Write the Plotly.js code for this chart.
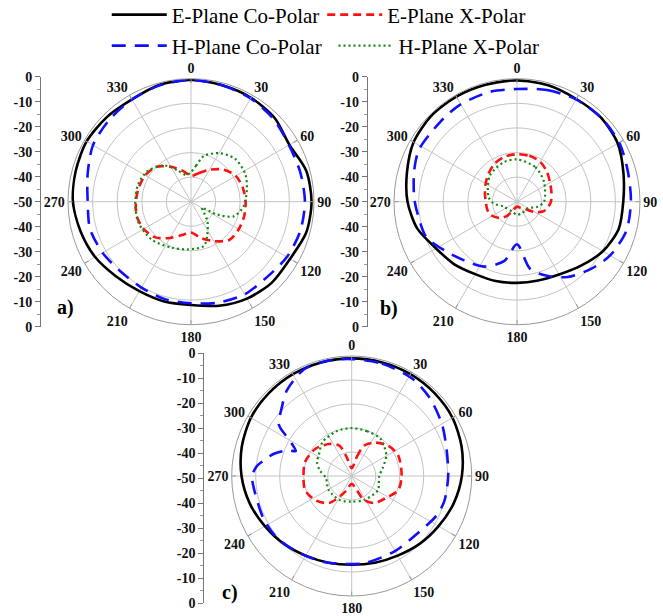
<!DOCTYPE html>
<html><head><meta charset="utf-8">
<script src="https://cdn.plot.ly/plotly-3.0.1.min.js"></script>
<style>html,body{margin:0;padding:0;background:#fff}#chart{width:663px;height:616px}</style>
</head><body><div id="chart"></div>
<script>
const seriesNames = ['E-Plane Co-Polar', 'E-Plane X-Polar', 'H-Plane Co-Polar', 'H-Plane X-Polar'];
const angleTicks = [0, 30, 60, 90, 120, 150, 180, 210, 240, 270, 300, 330];
const angleTickLabels = ['0', '30', '60', '90', '120', '150', '180', '210', '240', '270', '300', '330'];
const sideTickVals = [50, 40, 30, 20, 10, 0, -10, -20, -30, -40, -50];
const sideTickLabels = ['0', '-10', '-20', '-30', '-40', '-50', '-40', '-30', '-20', '-10', '0'];
const panelLabels = ['a)', 'b)', 'c)'];

// ---------- panel a ----------
const aEcoTheta = [0, 15, 30, 45, 60, 75, 90, 105, 120, 135, 150, 165, 180, 195, 210, 225, 240, 255, 270, 285, 300, 315, 330, 345];
const aEcoR = [-0.5, -1, -1.2, -1.9, -3.8, -1.5, -1, -1.5, -3.5, -3.5, -4.5, -6.2, -8, -8, -8, -7, -5, -3.5, -2, -1.5, -1, -1.5, -2, -0.8];
const aExTheta = [0, 15, 30, 45, 60, 75, 90, 105, 120, 135, 150, 165, 180, 195, 210, 225, 240, 255, 270, 285, 300, 315, 330, 345];
const aExR = [-39.5, -38, -35, -31.5, -29, -28.2, -27.8, -27.6, -27.6, -28, -31.5, -34.8, -37.5, -36, -33, -29.5, -27.8, -27.2, -27.6, -28, -28.5, -30, -33.6, -37];
const aHcoTheta = [0, 15, 30, 45, 60, 75, 90, 105, 120, 135, 150, 165, 180, 195, 210, 225, 240, 255, 270, 285, 300, 315, 330, 345];
const aHcoR = [-0.5, -1, -1.5, -2.5, -4, -4, -3.7, -4, -5, -6.5, -6.5, -7.5, -8.7, -9, -9.7, -9.7, -8.5, -7.5, -8, -6.5, -4, -3, -2, -1];
const aHxTheta = [0, 8, 16, 31, 46, 63, 78, 95, 109, 116, 120, 126, 140, 155, 164, 184, 203, 226, 248, 268, 289, 306, 324, 337, 350];
const aHxR = [-38, -35.2, -30.6, -27, -25, -25.2, -26.8, -28.5, -31.7, -38, -45, -44, -39.6, -34.5, -31.2, -30.6, -29.7, -27.8, -27, -27.3, -27.4, -28.5, -31.8, -36.2, -39];

// ---------- panel b ----------
const bEcoTheta = [0, 15, 30, 45, 60, 75, 90, 105, 120, 135, 150, 165, 180, 195, 210, 225, 240, 255, 270, 285, 300, 315, 330, 345];
const bEcoR = [-0.7, -1, -1.8, -1.7, -2.7, -5.2, -6.8, -7.2, -9.7, -13.2, -15.8, -16.8, -17, -16.6, -16, -14, -12, -8, -5.5, -3.7, -1.5, -0.7, -0.7, -0.8];
const bExTheta = [0, 15, 30, 45, 60, 75, 90, 100, 110, 120, 130, 150, 180, 205, 215, 225, 243, 255, 270, 285, 300, 315, 330, 345];
const bExR = [-30.7, -30.7, -31.2, -32.8, -34.5, -35.5, -36.2, -37.2, -38.6, -41.5, -45, -47, -48, -46, -43, -40.6, -38, -37.5, -37.3, -36.5, -35.3, -33.7, -32, -31];
const bHcoTheta = [0, 15, 30, 45, 60, 75, 90, 105, 120, 132, 146, 158, 169, 180, 192, 207, 222, 236, 249, 263, 272, 287, 298, 316, 329, 346];
const bHcoR = [-4.2, -3, -2, -1.7, -2, -3.3, -3.7, -4, -6.3, -9.3, -13.1, -17.5, -22.2, -32.7, -25.4, -20.4, -17.9, -14.5, -10.4, -9.3, -8.2, -6.3, -4.9, -5, -4.3, -4];
const bHxTheta = [0, 28, 54, 90, 104, 123, 156, 180, 207, 250, 266, 280, 314, 341];
const bHxR = [-32.8, -34.1, -36.4, -39, -41.5, -45, -44.9, -44.7, -45.5, -44.2, -40.4, -38.2, -34.7, -33.1];

// ---------- panel c ----------
const cEcoTheta = [0, 15, 30, 45, 60, 75, 90, 105, 120, 135, 150, 165, 180, 195, 210, 225, 240, 255, 270, 285, 300, 315, 330, 345];
const cEcoR = [-1, -1, -1, -1.2, -1.5, -2.6, -4.1, -6, -8.2, -10, -11.7, -12.6, -13, -12.6, -11.7, -10, -8.2, -6, -4.1, -2.6, -1.5, -1.2, -1, -1];
const cExTheta = [0, 15, 22, 34, 50, 66, 90, 107, 120, 140, 153, 160, 180, 200, 206, 220, 236, 253, 270, 287, 307, 325, 338, 345];
const cExR = [-46.7, -41.7, -36.4, -33.2, -30.3, -28.8, -29.2, -29.7, -32.6, -35.3, -38.8, -43.6, -46.7, -43.6, -41.8, -35.3, -31.9, -29.7, -29.9, -29.7, -31.1, -33.7, -36.4, -41.7];
const cHcoTheta = [0, 15, 32, 45, 60, 74, 90, 105, 115, 130, 150, 170, 180, 197, 213, 230, 244, 260, 270, 276, 280, 286, 292, 294, 300, 305, 314, 323, 336, 348];
const cHcoR = [-1.3, -1.5, -2.2, -4, -6.6, -8.9, -9.8, -10, -11, -13.5, -13.9, -13.4, -13.3, -12.4, -11.3, -9.6, -9.2, -9.1, -8.5, -10.3, -12.8, -16.3, -21.4, -24.5, -20, -13, -9.4, -5.2, -1.3, -0.9];
const cHxTheta = [0, 19, 38, 59, 75, 90, 119, 153, 180, 207, 240, 266, 280, 292, 302, 319, 341];
const cHxR = [-30, -30.3, -30.4, -33.2, -36.6, -38.5, -37.6, -38.8, -39.3, -38.8, -38.8, -39.2, -36.5, -34.4, -33.8, -31.4, -30.3];

const panels = [
  {polar: 'polar', data: [[aEcoTheta, aEcoR], [aExTheta, aExR], [aHcoTheta, aHcoR], [aHxTheta, aHxR]]},
  {polar: 'polar2', data: [[bEcoTheta, bEcoR], [bExTheta, bExR], [bHcoTheta, bHcoR], [bHxTheta, bHxR]]},
  {polar: 'polar3', data: [[cEcoTheta, cEcoR], [cExTheta, cExR], [cHcoTheta, cHcoR], [cHxTheta, cHxR]]}
];

const styles = [
  {color: '#000000', width: 2.6, dash: 'solid'},
  {color: '#ff1010', width: 2.6, dash: '8px,5px'},
  {color: '#1010ff', width: 2.6, dash: '14px,9px'},
  {color: '#108a10', width: 2.2, dash: '2px,3px'}
];
const legendIds = ['legend', 'legend2', 'legend3', 'legend4'];
const serif = 'Liberation Serif, Times New Roman, serif';
const bold = s => '<b>' + s + '</b>';

const traces = [];
panels.forEach((p, pi) => {
  p.data.forEach((d, si) => {
    const th = d[0].concat([d[0][0] + 360]);
    const rr = d[1].concat([d[1][0]]);
    traces.push({
      type: 'scatterpolar', mode: 'lines', subplot: p.polar,
      theta: th, r: rr, name: seriesNames[si],
      line: {color: styles[si].color, width: styles[si].width, dash: styles[si].dash, shape: 'spline', smoothing: 0.8},
      showlegend: pi === 0, legend: legendIds[si], hoverinfo: 'skip'
    });
  });
});
['y', 'y2', 'y3'].forEach(ya => traces.push({type: 'scatter', x: [], y: [], xaxis: 'x', yaxis: ya, showlegend: false, hoverinfo: 'skip'}));

const W = 663, H = 616;
function polarLayout(cx, cy, rad) {
  return {
    domain: {x: [(cx - rad) / W, (cx + rad) / W], y: [1 - (cy + rad) / H, 1 - (cy - rad) / H]},
    bgcolor: '#ffffff',
    angularaxis: {
      rotation: 90, direction: 'clockwise', tickmode: 'array', tickvals: angleTicks, ticktext: angleTickLabels.map(bold),
      ticks: 'inside', ticklen: 4, tickcolor: '#999', showline: true, linecolor: '#999', linewidth: 1,
      gridcolor: '#c4c4c4', gridwidth: 1,
      tickfont: {family: serif, size: 14, color: '#111'}
    },
    radialaxis: {
      range: [-50, 0], tickmode: 'array', tickvals: [-40, -30, -20, -10], showticklabels: false,
      ticks: '', showline: false, gridcolor: '#c4c4c4', gridwidth: 1
    }
  };
}
function sideAxis(pos, cy, rad) {
  return {
    domain: [1 - (cy + rad) / H, 1 - (cy - rad) / H], range: [-50, 50], anchor: 'free', position: pos,
    tickmode: 'array', tickvals: sideTickVals, ticktext: sideTickLabels.map(bold),
    showline: true, linecolor: '#777', linewidth: 1, ticks: 'outside', ticklen: 5, tickcolor: '#777',
    minor: {tickmode: 'linear', tick0: 0, dtick: 5, ticks: 'outside', ticklen: 3, tickcolor: '#999'},
    showgrid: false, zeroline: false, fixedrange: true,
    tickfont: {family: serif, size: 14, color: '#111'}
  };
}
const legFont = {family: serif, size: 21, color: '#000'};
function leg(x, y) {
  return {x: x, y: y, xanchor: 'left', yanchor: 'middle', orientation: 'h', font: legFont,
          itemwidth: 55, bgcolor: 'rgba(0,0,0,0)', borderwidth: 0};
}

const layout = {
  width: W, height: H, margin: {l: 0, r: 0, t: 0, b: 0, autoexpand: false},
  paper_bgcolor: '#ffffff', plot_bgcolor: 'rgba(0,0,0,0)',
  polar: polarLayout(191, 201.7, 123),
  polar2: polarLayout(517, 201.7, 123),
  polar3: polarLayout(351.7, 476, 120),
  xaxis: {visible: false, domain: [0, 1], range: [0, 1], fixedrange: true},
  yaxis: sideAxis(40 / W, 201.7, 125),
  yaxis2: sideAxis(366.7 / W, 201.7, 125),
  yaxis3: sideAxis(203.3 / W, 478.3, 125),
  legend: leg(0.161, 1 - 15 / H),
  legend2: leg(0.486, 1 - 15 / H),
  legend3: leg(0.161, 1 - 46 / H),
  legend4: leg(0.503, 1 - 46 / H),
  annotations: [
    {text: panelLabels[0], x: 65 / W, y: 1 - 307 / H},
    {text: panelLabels[1], x: 389 / W, y: 1 - 308 / H},
    {text: panelLabels[2], x: 230 / W, y: 1 - 592 / H}
  ].map(a => Object.assign(a, {text: bold(a.text), xref: 'paper', yref: 'paper', showarrow: false, xanchor: 'center', yanchor: 'middle',
      font: {family: serif, size: 20, color: '#000'}})),
  showlegend: true
};

Plotly.newPlot('chart', traces, layout, {staticPlot: true, displayModeBar: false});
</script></body></html>
